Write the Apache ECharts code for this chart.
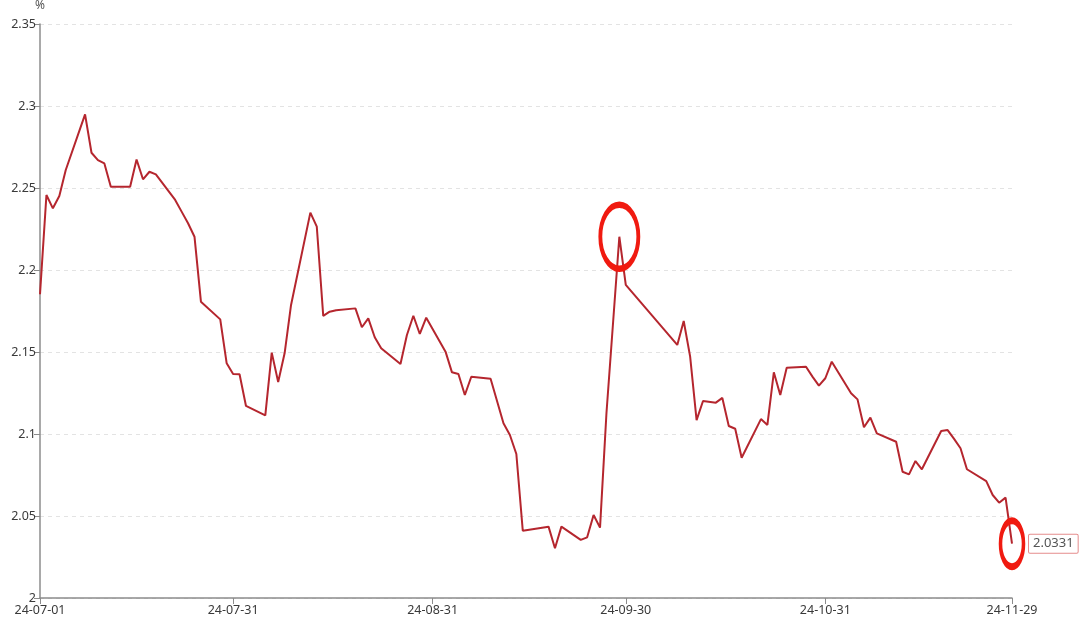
<!DOCTYPE html>
<html>
<head>
<meta charset="utf-8">
<script src="https://cdn.jsdelivr.net/npm/echarts@6/dist/echarts.min.js"></script>
<style>
html,body{margin:0;padding:0;background:#fff;}
#chart{width:1080px;height:626px;}
</style>
</head>
<body>
<div id="chart"></div>
<script>
const dates = [
'2024-07-01','2024-07-02','2024-07-03','2024-07-04','2024-07-05','2024-07-08','2024-07-09','2024-07-10','2024-07-11','2024-07-12',
'2024-07-15','2024-07-16','2024-07-17','2024-07-18','2024-07-19','2024-07-22','2024-07-23','2024-07-24','2024-07-25','2024-07-26',
'2024-07-29','2024-07-30','2024-07-31','2024-08-01','2024-08-02','2024-08-05','2024-08-06','2024-08-07','2024-08-08','2024-08-09',
'2024-08-12','2024-08-13','2024-08-14','2024-08-15','2024-08-16','2024-08-19','2024-08-20','2024-08-21','2024-08-22','2024-08-23',
'2024-08-26','2024-08-27','2024-08-28','2024-08-29','2024-08-30','2024-09-02','2024-09-03','2024-09-04','2024-09-05','2024-09-06',
'2024-09-09','2024-09-10','2024-09-11','2024-09-12','2024-09-13','2024-09-14','2024-09-18','2024-09-19','2024-09-20','2024-09-23',
'2024-09-24','2024-09-25','2024-09-26','2024-09-27','2024-09-29','2024-09-30','2024-10-08','2024-10-09','2024-10-10','2024-10-11',
'2024-10-12','2024-10-14','2024-10-15','2024-10-16','2024-10-17','2024-10-18','2024-10-21','2024-10-22','2024-10-23','2024-10-24',
'2024-10-25','2024-10-28','2024-10-29','2024-10-30','2024-10-31','2024-11-01','2024-11-04','2024-11-05','2024-11-06','2024-11-07',
'2024-11-08','2024-11-11','2024-11-12','2024-11-13','2024-11-14','2024-11-15','2024-11-18','2024-11-19','2024-11-20','2024-11-21',
'2024-11-22','2024-11-25','2024-11-26','2024-11-27','2024-11-28','2024-11-29'
];
const yields = [
2.1852,2.2457,2.2376,2.2451,2.2610,2.2949,2.2715,2.2670,2.2650,2.2508,
2.2508,2.2674,2.2553,2.2599,2.2583,2.2427,2.2356,2.2285,2.2203,2.1807,
2.1699,2.1431,2.1366,2.1364,2.1171,2.1114,2.1496,2.1317,2.1492,2.1787,
2.2350,2.2264,2.1720,2.1746,2.1755,2.1766,2.1651,2.1705,2.1590,2.1523,
2.1427,2.1604,2.1721,2.1610,2.1709,2.1502,2.1376,2.1366,2.1238,2.1349,
2.1337,2.1201,2.1065,2.0994,2.0878,2.0410,2.0435,2.0303,2.0435,2.0354,
2.0370,2.0506,2.0429,2.1128,2.2203,2.1909,2.1543,2.1689,2.1472,2.1085,
2.1201,2.1191,2.1220,2.1049,2.1032,2.0855,2.1091,2.1055,2.1376,2.1238,
2.1404,2.1410,2.1350,2.1295,2.1340,2.1441,2.1248,2.1211,2.1041,2.1100,
2.1004,2.0953,2.0770,2.0754,2.0835,2.0785,2.1018,2.1024,2.0970,2.0913,
2.0785,2.0713,2.0628,2.0581,2.0612,2.0331
];
const xTickDates = ['2024-07-01','2024-07-31','2024-08-31','2024-09-30','2024-10-31','2024-11-29'];
const yTicks = [2, 2.05, 2.1, 2.15, 2.2, 2.25, 2.3, 2.35];
const highlighted = ['2024-09-29', '2024-11-29'];

// convert a date string into a day offset from the first date (UTC based, no DST issues)
function utc(s){ const p = s.split('-').map(Number); return Date.UTC(p[0], p[1]-1, p[2]); }
const DAY = 86400000;
const origin = utc(dates[0]);
function dayIdx(s){ return Math.round((utc(s) - origin) / DAY); }
function pad(n){ return (n<10?'0':'')+n; }
function fmt(v){ const d = new Date(origin + Math.round(v) * DAY); return pad(d.getUTCFullYear()%100)+'-'+pad(d.getUTCMonth()+1)+'-'+pad(d.getUTCDate()); }

const seriesData = dates.map((d,i)=>[dayIdx(d), yields[i]]);
const tickVals = xTickDates.map(dayIdx);
const markData = highlighted.map((d,i)=>{
  const idx = dates.indexOf(d);
  return {coord:[dayIdx(d), yields[idx]], symbolSize: i===0 ? [38,64] : [23,46]};
});

const chart = echarts.init(document.getElementById('chart'), null, {renderer:'canvas'});
const font = '"Noto Sans", "Open Sans", sans-serif';
chart.setOption({
  animation:false,
  backgroundColor:'#fff',
  textStyle:{fontFamily:font},
  grid:{left:40, right:68, top:24, bottom:28, containLabel:false},
  xAxis:{
    type:'value',
    min:tickVals[0], max:tickVals[tickVals.length-1],
    axisLine:{show:true, lineStyle:{color:'#8c8c8c', width:1.5}},
    axisTick:{show:true, customValues:tickVals, length:6, lineStyle:{color:'#8c8c8c'}},
    axisLabel:{customValues:tickVals, formatter:fmt, color:'#3a3a3a', fontSize:12.5, margin:6, fontFamily:font, hideOverlap:false, showMinLabel:true, showMaxLabel:true},
    splitLine:{show:false}
  },
  yAxis:{
    type:'value',
    min:yTicks[0], max:yTicks[yTicks.length-1], interval:0.05,
    name:'%', nameLocation:'end', nameGap:12,
    nameTextStyle:{color:'#555', fontSize:12, fontFamily:font, align:'center'},
    axisLine:{show:true, lineStyle:{color:'#8c8c8c', width:1.5}},
    axisTick:{show:true, length:6, lineStyle:{color:'#8c8c8c'}},
    axisLabel:{color:'#3a3a3a', fontSize:12.5, margin:4, fontFamily:font},
    splitLine:{show:true, lineStyle:{color:'#e3e3e3', type:[4,4], width:1}}
  },
  series:[{
    type:'line',
    data:seriesData,
    showSymbol:false,
    symbol:'none',
    lineStyle:{color:'#b5262e', width:2},
    itemStyle:{color:'#b5262e'},
    endLabel:{
      show:true,
      formatter:(p)=>p.value[1].toFixed(4),
      distance:17,
      color:'#555', fontSize:13, fontFamily:font,
      backgroundColor:'#fff', borderColor:'#e58c8c', borderWidth:1, borderRadius:1,
      padding:[3,4,2,4]
    },
    markPoint:{
      symbol:'circle',
      silent:true,
      itemStyle:{color:'rgba(0,0,0,0)', borderColor:'#f01a10', borderWidth:5},
      label:{show:false},
      data:markData
    }
  }]
});
</script>
</body>
</html>
